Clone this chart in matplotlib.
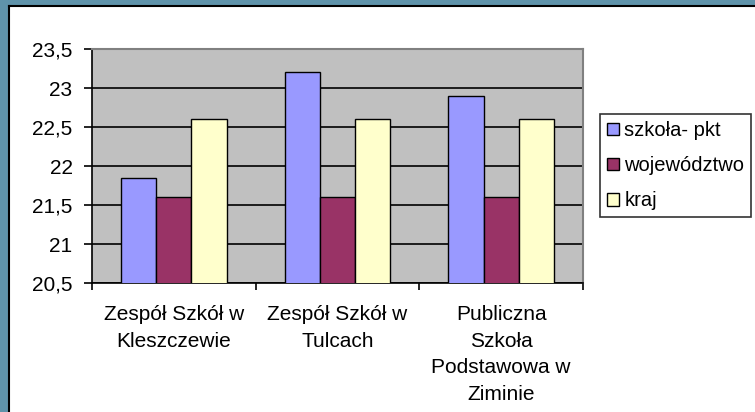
import matplotlib.pyplot as plt
from matplotlib.patches import Rectangle
from matplotlib.lines import Line2D
import numpy as np

categories = ["Zespół Szkół w\nKleszczewie", "Zespół Szkół w\nTulcach",
              "Publiczna\nSzkoła\nPodstawowa w\nZiminie"]
series = ["szkoła- pkt", "województwo", "kraj"]
szkola = [21.85, 23.2, 22.9]
wojewodztwo = [21.6, 21.6, 21.6]
kraj = [22.6, 22.6, 22.6]
colors = ["#9999ff", "#993366", "#ffffcc"]
yticks = [20.5, 21, 21.5, 22, 22.5, 23, 23.5]
ytick_labels = ["20,5", "21", "21,5", "22", "22,5", "23", "23,5"]

plt.rcParams["font.family"] = ["Liberation Sans", "DejaVu Sans"]

W, H = 755, 412
fig = plt.figure(figsize=(W / 100, H / 100), dpi=100)
fig.patch.set_facecolor("#5f93aa")

# white slide panel with black edge at top and left
fig.patches.append(Rectangle((9 / W, 0), 1 - 9 / W, 1 - 6 / H, transform=fig.transFigure,
                             facecolor="white", edgecolor="none", zorder=-1))
fig.lines.append(Line2D([9 / W, 9 / W], [0, 1 - 6 / H], transform=fig.transFigure,
                        color="black", lw=1.5))
fig.lines.append(Line2D([9 / W, 1], [1 - 6 / H, 1 - 6 / H], transform=fig.transFigure,
                        color="black", lw=1.5))

ax = fig.add_axes([92 / W, 1 - 283 / H, (583 - 92) / W, (283 - 49) / H])
ax.set_facecolor("#c0c0c0")

x = np.arange(len(categories))
w = 0.215
for i, (vals, name) in enumerate(zip([szkola, wojewodztwo, kraj], series)):
    ax.bar(x + (i - 1) * w, vals, w, color=colors[i], edgecolor="black",
           linewidth=1, label=name, zorder=3)

ax.set_ylim(20.5, 23.5)
ax.set_xlim(-0.5, 2.5)
ax.set_yticks(yticks)
ax.set_yticklabels(ytick_labels, fontsize=15)
ax.yaxis.grid(True, color="black", linewidth=1.2, zorder=1)
ax.set_axisbelow(True)

ax.set_xticks(x)
ax.set_xticklabels(categories, fontsize=15, linespacing=1.5, va="top")
ax.set_xticks([-0.5, 0.5, 1.5, 2.5], minor=True)
ax.tick_params(axis="x", which="major", length=0, pad=16)
ax.tick_params(axis="x", which="minor", length=5, width=1.2, color="black")
ax.tick_params(axis="y", length=6, width=1.2, pad=8, color="black")

for s in ["left", "bottom"]:
    ax.spines[s].set_color("black")
    ax.spines[s].set_linewidth(1.2)
for s in ["top", "right"]:
    ax.spines[s].set_color("#808080")
    ax.spines[s].set_linewidth(1.5)

leg = fig.legend(loc="upper left", bbox_to_anchor=(600 / W, 1 - 114 / H),
                 fontsize=14.5, frameon=True, fancybox=False, shadow=False,
                 handlelength=0.6, handleheight=0.6, handletextpad=0.25,
                 labelspacing=0.8, borderpad=0.35, borderaxespad=0)
leg.get_frame().set_edgecolor("black")
leg.get_frame().set_linewidth(1.2)

fig.savefig("out.png", dpi=100)
